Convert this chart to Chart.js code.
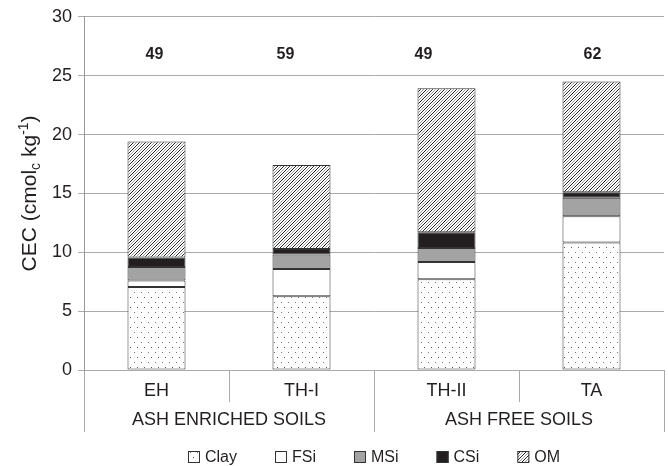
<!DOCTYPE html>
<html>
<head>
<meta charset="utf-8">
<script src="https://cdn.jsdelivr.net/npm/chart.js@4.4.1/dist/chart.umd.min.js"></script>
<style>
  html, body { margin: 0; padding: 0; background: #fff; }
  #wrap { width: 668px; height: 466px; }
</style>
</head>
<body>
<div id="wrap"><canvas id="myChart"></canvas></div>
<script>
// data
const categories = ["EH", "TH-I", "TH-II", "TA"];
const groups = ["ASH ENRICHED SOILS", "ASH FREE SOILS"];
const clay = [7.05, 6.26, 7.7, 10.82];
const fsi = [0.55, 2.32, 1.48, 2.24];
const msi = [1.15, 1.22, 1.19, 1.58];
const csi = [0.8, 0.48, 1.33, 0.46];
const om = [9.85, 7.14, 12.23, 9.4];
const topLabels = ["49", "59", "49", "62"];

const FONT = "'Liberation Sans', Arial, Helvetica, sans-serif";
const INK = "#231f20";

Chart.defaults.font.family = FONT;
Chart.defaults.color = INK;

const ctx = document.getElementById("myChart").getContext("2d");

// small tiles for the hatched fills
function tile(w, h, draw) {
  const c = document.createElement("canvas");
  c.width = w;
  c.height = h;
  const g = c.getContext("2d");
  g.fillStyle = "#fff";
  g.fillRect(0, 0, w, h);
  draw(g);
  return ctx.createPattern(c, "repeat");
}

const dots = tile(7, 10, (g) => {
  g.fillStyle = "#777";
  g.fillRect(1, 2, 1, 1);
  g.fillStyle = "#555";
  g.fillRect(4, 7, 1, 1);
});

const hatch = tile(6, 6, (g) => {
  for (let i = 0; i < 6; i++) {
    g.fillStyle = "#222";
    g.fillRect(i, (5 - i) % 6, 1, 1);
    g.fillStyle = "#999";
    g.fillRect(i, (8 - i) % 6, 1, 1);
  }
});

// y title with subscript / superscript
const yTitle = {
  id: "yTitle",
  afterDraw(chart) {
    const c = chart.ctx;
    const area = chart.chartArea;
    const parts = [
      ["CEC (cmol", 0],
      ["c", 1],
      [" kg", 0],
      ["-1", -1],
      [")", 0],
    ];
    const big = "21px " + FONT;
    const small = "14px " + FONT;
    c.save();
    let total = 0;
    parts.forEach((p) => {
      c.font = p[1] ? small : big;
      total += c.measureText(p[0]).width;
    });
    c.translate(36, (area.top + area.bottom) / 2);
    c.rotate(-Math.PI / 2);
    c.fillStyle = INK;
    c.textBaseline = "alphabetic";
    let x = -total / 2;
    parts.forEach((p) => {
      c.font = p[1] ? small : big;
      const dy = p[1] === 1 ? 4 : p[1] === -1 ? -8 : 0;
      c.fillText(p[0], x, dy);
      x += c.measureText(p[0]).width;
    });
    c.restore();
  },
};

// the bold numbers above the bars
const topText = {
  id: "topText",
  afterDatasetsDraw(chart) {
    const c = chart.ctx;
    const xs = chart.scales.x;
    const ys = chart.scales.y;
    const nudge = [-2, -16, -23, 1];
    c.save();
    c.font = "bold 16px " + FONT;
    c.fillStyle = INK;
    c.textAlign = "center";
    c.textBaseline = "middle";
    topLabels.forEach((t, i) => {
      c.fillText(t, xs.getPixelForValue(i) + nudge[i], ys.getPixelForValue(26.8));
    });
    c.restore();
  },
};

// legend row under the axis
const legendRow = {
  id: "legendRow",
  afterDraw(chart) {
    const c = chart.ctx;
    const area = chart.chartArea;
    const sets = chart.data.datasets;
    const box = 12, gapText = 5, gapItem = 38;
    c.save();
    c.font = "16px " + FONT;
    const widths = sets.map((d) => box + gapText + c.measureText(d.label).width);
    const total = widths.reduce((a, b) => a + b, 0) + gapItem * (sets.length - 1);
    let x = Math.round((area.left + area.right) / 2 - total / 2);
    const y = 457;
    sets.forEach((d, i) => {
      c.fillStyle = d.backgroundColor;
      c.fillRect(x, y - 6, box, box);
      c.strokeStyle = "#333";
      c.lineWidth = 1;
      c.strokeRect(x + 0.5, y - 5.5, box - 1, box - 1);
      c.fillStyle = INK;
      c.textBaseline = "middle";
      c.fillText(d.label, x + box + gapText, y + 1);
      x += widths[i] + gapItem;
    });
    c.restore();
  },
};

function seg(label, data, fill) {
  return {
    label: label,
    data: data,
    backgroundColor: fill,
    borderColor: "#333",
    borderWidth: 1,
    borderSkipped: false,
    barPercentage: 0.4,
    categoryPercentage: 1,
  };
}

new Chart(ctx, {
  type: "bar",
  data: {
    labels: categories,
    datasets: [
      seg("Clay", clay, dots),
      seg("FSi", fsi, "#ffffff"),
      seg("MSi", msi, "#a3a3a3"),
      seg("CSi", csi, "#231f20"),
      seg("OM", om, hatch),
    ],
  },
  options: {
    responsive: true,
    maintainAspectRatio: false,
    animation: false,
    layout: { padding: { top: 16, right: 4, left: 0, bottom: 34 } },
    plugins: {
      legend: { display: false },
      tooltip: { enabled: false },
    },
    scales: {
      x: {
        stacked: true,
        position: "bottom",
        grid: {
          offset: true,
          drawOnChartArea: false,
          tickLength: 32,
          color: "#aaa",
        },
        border: { display: true, color: "#aaa" },
        ticks: { font: { size: 18 }, padding: -22, color: INK },
        afterFit: (s) => { s.height = 32; },
      },
      x2: {
        type: "category",
        labels: groups,
        position: "bottom",
        offset: true,
        grid: {
          offset: true,
          drawOnChartArea: false,
          tickLength: 30,
          color: "#aaa",
        },
        border: { display: false },
        ticks: { font: { size: 18 }, padding: -23, color: INK },
        afterFit: (s) => { s.height = 30; },
      },
      y: {
        stacked: true,
        min: 0,
        max: 30,
        ticks: { stepSize: 5, font: { size: 18 }, padding: 6, color: INK },
        grid: { color: "#aaa", tickLength: 6 },
        border: { color: "#999" },
        afterFit: (s) => { s.width = 84; },
      },
    },
  },
  plugins: [yTitle, topText, legendRow],
});
</script>
</body>
</html>
